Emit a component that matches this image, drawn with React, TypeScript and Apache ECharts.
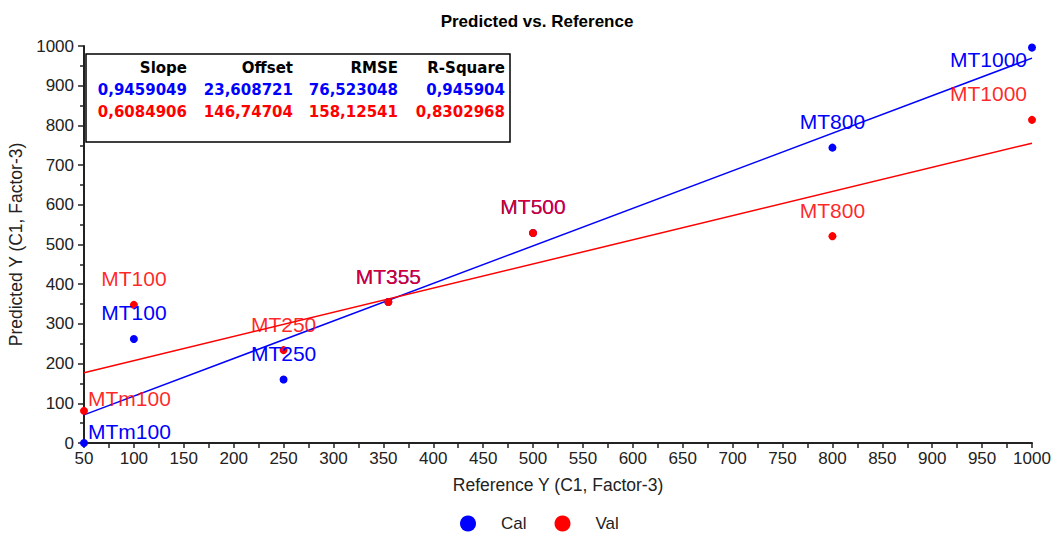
import React, { useEffect, useRef } from "react";
import * as echarts from "echarts";

const pointNames = ["MTm100", "MT100", "MT250", "MT355", "MT500", "MT800", "MT1000"];
const referenceY = [50, 100, 250, 355, 500, 800, 1000];
const calPredicted = [0, 262, 160, 355, 529, 744, 996];
const valPredicted = [81, 348, 234, 355, 529, 521, 814];

const statHeaders = ["Slope", "Offset", "RMSE", "R-Square"];
const calStats = ["0,9459049", "23,608721", "76,523048", "0,945904"];
const valStats = ["0,6084906", "146,74704", "158,12541", "0,8302968"];
const calSlope = 0.9459049;
const calOffset = 23.608721;
const valSlope = 0.6084906;
const valOffset = 146.74704;

const xMin = 50;
const xMax = 1000;
const yMin = 0;
const yMax = 1000;

const BLUE = "#0000ff";
const RED = "#ff0000";
const GRID_L = 84;
const GRID_R = 1032;
const GRID_T = 46;

const labelLayout = (p: any) => {
  const cx = p.rect.x + p.rect.width / 2;
  const cy = p.rect.y + p.rect.height / 2;
  const w = p.labelRect.width;
  let x = cx - w / 2;
  let y = cy - 26;
  if (x < GRID_L) {
    x = cx + 4;
    y = cy - 12;
  }
  if (x + w > GRID_R - 5) x = GRID_R - 5 - w;
  if (y < GRID_T + 13) y = GRID_T + 13;
  return { x, y, align: "left", verticalAlign: "middle" };
};

function scatterSeries(name: string, values: number[], color: string, labelOpacity: number) {
  return {
    type: "scatter",
    name,
    symbol: "circle",
    symbolSize: 8,
    clip: false,
    itemStyle: { color, opacity: 1 },
    z: 5,
    label: {
      show: true,
      formatter: (p: any) => pointNames[p.dataIndex],
      color,
      opacity: labelOpacity,
      fontFamily: "'Liberation Sans', Arial, sans-serif",
      fontSize: 21,
    },
    labelLayout,
    data: referenceY.map((x, i) => [x, values[i]]),
  };
}

function fitSeries(name: string, slope: number, offset: number, color: string) {
  return {
    type: "line",
    name,
    symbol: "none",
    lineStyle: { color, width: 1.5 },
    z: 3,
    silent: true,
    data: [
      [xMin, offset + slope * xMin],
      [xMax, offset + slope * xMax],
    ],
  };
}

const colX = [187, 293, 398, 505];
const rowY = [68, 90, 112];
const tableFont = "bold 15px 'DejaVu Sans', Verdana, sans-serif";

function tableGraphics() {
  const els: any[] = [
    {
      type: "rect",
      shape: { x: 86, y: 54, width: 424, height: 88 },
      style: { fill: "#fff", stroke: "#000", lineWidth: 1.5 },
      z: 10,
    },
  ];
  const rows = [
    { texts: statHeaders, color: "#000" },
    { texts: calStats, color: BLUE },
    { texts: valStats, color: RED },
  ];
  rows.forEach((r, ri) => {
    r.texts.forEach((t, ci) => {
      els.push({
        type: "text",
        x: colX[ci],
        y: rowY[ri],
        z: 11,
        style: {
          text: t,
          fill: r.color,
          font: tableFont,
          textAlign: "right",
          textVerticalAlign: "middle",
        },
      });
    });
  });
  return els;
}

export default function App() {
  const ref = useRef<HTMLDivElement>(null);
  useEffect(() => {
    document.body.style.margin = "0";
    const chart = echarts.init(ref.current!, null, { renderer: "svg" });
    const axisFont = "'Liberation Sans', Arial, sans-serif";
    chart.setOption({
      animation: false,
      backgroundColor: "#fff",
      title: {
        text: "Predicted vs. Reference",
        left: 532,
        top: 8,
        textAlign: "center",
        textStyle: { fontFamily: axisFont, fontWeight: "bold", fontSize: 17, color: "#000" },
      },
      grid: {
        left: GRID_L,
        right: 1051 - GRID_R,
        top: GRID_T,
        bottom: 93,
        containLabel: false,
        outerBoundsMode: "none",
      },
      legend: {
        data: ["Cal", "Val"],
        left: 455,
        top: 510,
        icon: "circle",
        itemWidth: 16,
        itemHeight: 16,
        itemGap: 28,
        itemStyle: { opacity: 1 },
        textStyle: { fontFamily: axisFont, fontSize: 17, color: "#222", padding: [0, 0, 0, 20] },
      },
      xAxis: {
        type: "value",
        min: xMin,
        max: xMax,
        interval: 50,
        name: "Reference Y (C1, Factor-3)",
        nameLocation: "middle",
        nameGap: 33,
        nameTextStyle: { fontFamily: axisFont, fontSize: 17.5, color: "#222" },
        axisLine: { show: true, lineStyle: { color: "#222", width: 2 } },
        axisTick: { show: true, length: 5, lineStyle: { color: "#222", width: 1.5 } },
        minorTick: { show: true, splitNumber: 2, length: 5, lineStyle: { color: "#222", width: 1.5 } },
        splitLine: { show: false },
        axisLabel: {
          fontFamily: axisFont,
          fontSize: 17,
          color: "#222",
          margin: 7,
          formatter: (v: number) => String(v),
        },
      },
      yAxis: {
        type: "value",
        min: yMin,
        max: yMax,
        interval: 100,
        name: "Predicted Y (C1, Factor-3)",
        nameLocation: "middle",
        nameGap: 56,
        nameTextStyle: { fontFamily: axisFont, fontSize: 17.5, color: "#222" },
        axisLine: { show: true, lineStyle: { color: "#222", width: 2 } },
        axisTick: { show: true, length: 6, lineStyle: { color: "#222", width: 1.5 } },
        minorTick: { show: true, splitNumber: 2, length: 4, lineStyle: { color: "#222", width: 1.5 } },
        splitLine: { show: false },
        axisLabel: {
          fontFamily: axisFont,
          fontSize: 17,
          color: "#222",
          margin: 10,
          formatter: (v: number) => String(v),
        },
      },
      series: [
        fitSeries("Cal fit", calSlope, calOffset, BLUE),
        fitSeries("Val fit", valSlope, valOffset, RED),
        scatterSeries("Cal", calPredicted, BLUE, 1),
        scatterSeries("Val", valPredicted, RED, 0.85),
      ],
      graphic: tableGraphics(),
    });
    return () => chart.dispose();
  }, []);
  return <div ref={ref} style={{ width: 1051, height: 536 }} />;
}
